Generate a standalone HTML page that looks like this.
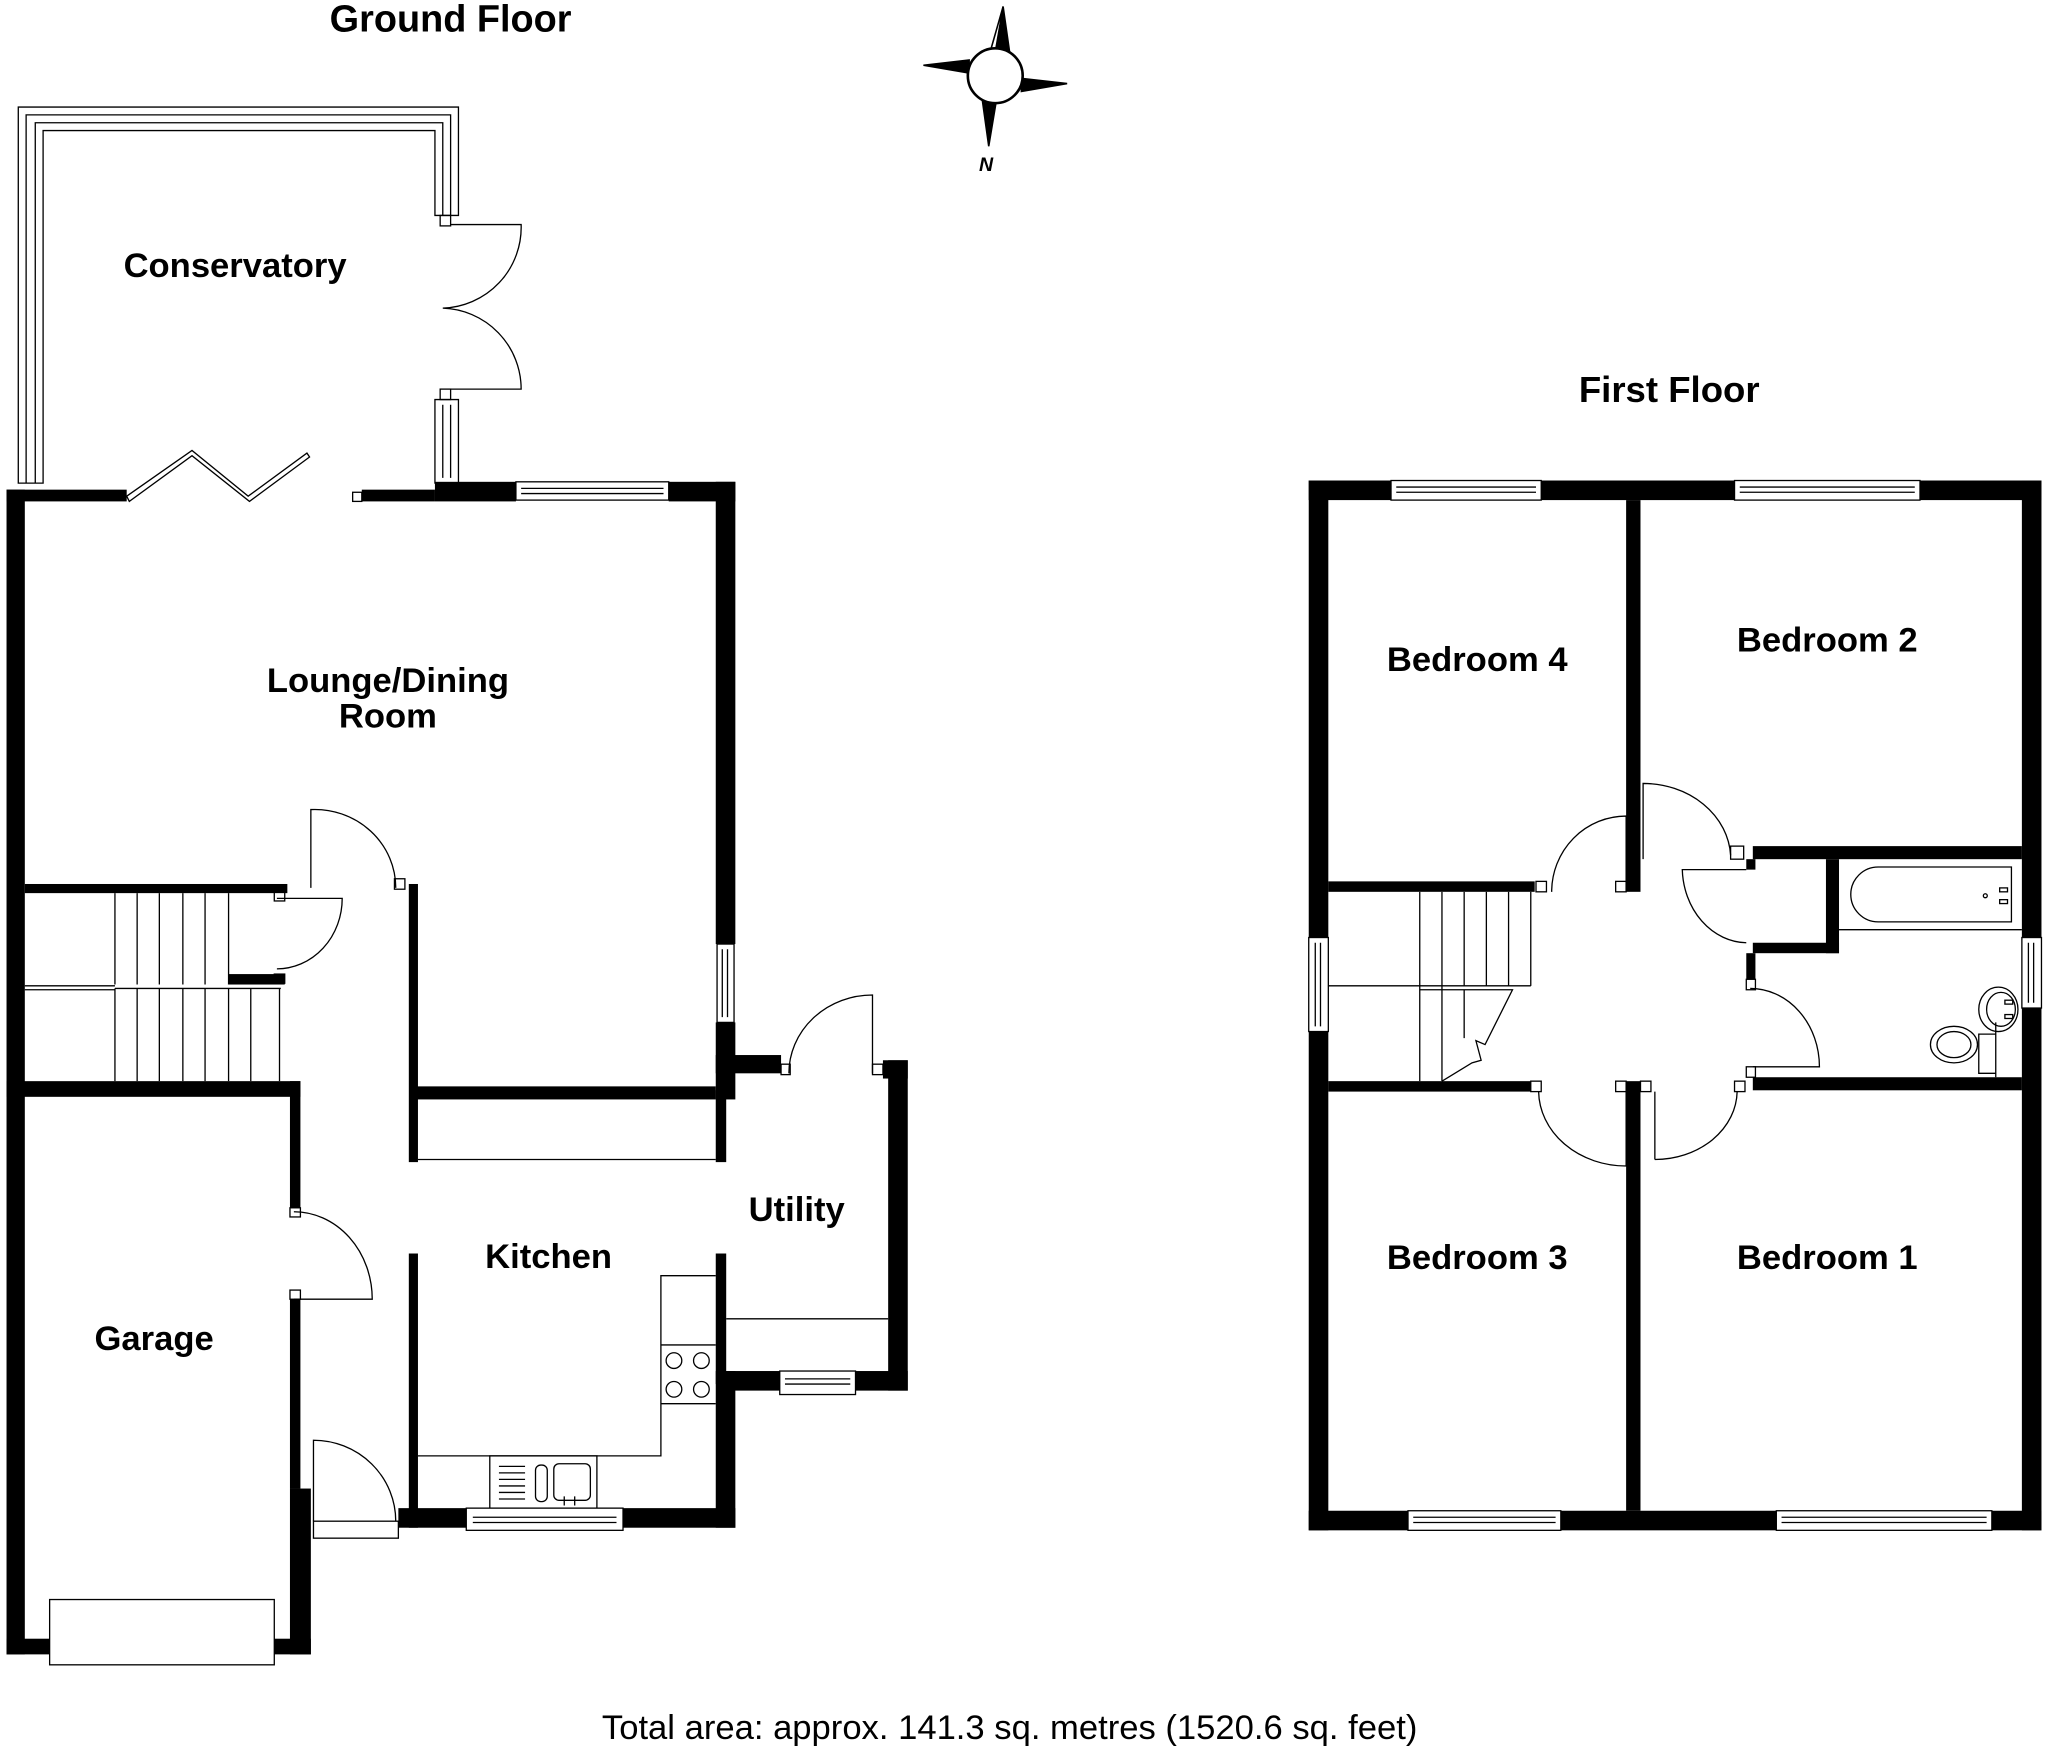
<!DOCTYPE html>
<html><head><meta charset="utf-8"><style>html,body{margin:0;padding:0;background:#fff}svg{display:block}</style></head>
<body>
<svg width="2048" height="1751" viewBox="0 0 1568 1341" preserveAspectRatio="none" xmlns="http://www.w3.org/2000/svg">
<rect width="1568" height="1341" fill="#fff"/>
<g font-family="Liberation Sans, Arial, sans-serif" font-weight="bold" font-size="26.5" text-anchor="middle" fill="#000">
<text x="345" y="24" font-size="29">Ground Floor</text>
<text x="1278" y="308" font-size="28">First Floor</text>
<text x="180" y="212">Conservatory</text>
<text x="297" y="530">Lounge/Dining</text>
<text x="297" y="557">Room</text>
<text x="420" y="971">Kitchen</text>
<text x="610" y="935">Utility</text>
<text x="118" y="1034">Garage</text>
<text x="1131" y="514">Bedroom 4</text>
<text x="1399" y="499">Bedroom 2</text>
<text x="1131" y="972">Bedroom 3</text>
<text x="1399" y="972">Bedroom 1</text>
</g>
<text x="773" y="1332" font-family="Liberation Sans, Arial, sans-serif" font-size="26.5" text-anchor="middle">Total area: approx. 141.3 sq. metres (1520.6 sq. feet)</text>

<!-- compass -->
<g stroke="#000" stroke-width="1.2">
<polygon points="768,5 773,40 762,40" fill="#000"/>
<polygon points="768,5 762,40 758,40" fill="#fff"/>
<polygon points="757,112 752,76 763,76" fill="#000"/>
<polygon points="707,50 742,46 742,56" fill="#000"/>
<polygon points="817,64 782,60 782,70" fill="#000"/>
<circle cx="762" cy="58" r="21" fill="#fff" stroke-width="2"/>
</g>
<text x="755" y="131" font-family="Liberation Sans, Arial, sans-serif" font-weight="bold" font-style="italic" font-size="15" text-anchor="middle">N</text>

<g fill="none" stroke="#000" stroke-width="1">
<!-- conservatory frame -->
<path d="M14,370 V82 H351 V165 H333 V100 H33 V370 Z" fill="#fff"/>
<path d="M20,370 V88 H345 V165"/>
<path d="M27,370 V94 H339 V165"/>
<rect x="337" y="165" width="8" height="8"/>
<rect x="337" y="298" width="8" height="8"/>
<path d="M333,306 H351 V370 H333 Z"/>
<path d="M339,310 V366 M345,310 V366"/>
<!-- double doors -->
<path d="M345,172 H399 A62,62 0 0 1 339,236 A62,62 0 0 1 399,298 H345"/>
<!-- bifold -->
<path d="M97,380 L147,345 L190,380 L235,347 L237,350 L191,384 L147,349 L99,384 Z"/>
<rect x="270" y="377" width="7" height="7"/>
<!-- lounge door -->
<path d="M238,680 V620 A62,60 0 0 1 303,680"/>
<rect x="302" y="673" width="8" height="8"/>
<!-- stair door -->
<path d="M212,742 A50,54 0 0 0 262,688 H212"/>
<rect x="210" y="683" width="8" height="7"/>
<rect x="210" y="746" width="8" height="7"/>
<!-- stairs -->
<path d="M19,755 H88 M88,684 V754 M105,684 V754 M122,684 V754 M140,684 V754 M157,684 V754 M175,684 V754"/>
<path d="M19,758 H88 M88,757 V828 M105,757 V828 M122,757 V828 M140,757 V828 M157,757 V828 M175,757 V828 M192,757 V828 M214,757 V828 M88,757 H215"/>
<!-- garage door -->
<path d="M225,928 A60,67 0 0 1 285,995 H225"/>
<rect x="222" y="925" width="8" height="7"/>
<rect x="222" y="988" width="8" height="7"/>
<rect x="38" y="1225" width="172" height="50" fill="#fff"/>
<!-- front door -->
<path d="M240,1165 V1103 A63,62 0 0 1 303,1165"/>
<rect x="240" y="1165" width="65" height="13"/>
<!-- lounge unit -->
<path d="M320,888 H548"/>
<!-- utility door -->
<path d="M668,822 V762 A64,60 0 0 0 604,822"/>
<rect x="598" y="815" width="7" height="8"/>
<rect x="668" y="815" width="8" height="8"/>
<path d="M556,1010 H680"/>
<!-- kitchen worktops -->
<path d="M320,1115 H506 V977 H548 M506,1030 H548 M506,1075 H548"/>
<circle cx="516" cy="1042" r="6"/><circle cx="537" cy="1042" r="6"/>
<circle cx="516" cy="1064" r="6"/><circle cx="537" cy="1064" r="6"/>
<rect x="375" y="1115" width="82" height="40"/>
<path d="M382,1123 H402 M382,1128 H402 M382,1133 H402 M382,1138 H402 M382,1143 H402 M382,1148 H402"/>
<rect x="410" y="1122" width="9" height="28" rx="4"/>
<rect x="424" y="1121" width="28" height="28" rx="4"/>
<path d="M432,1146 V1153 M440,1146 V1153"/>
<!-- windows ground -->
<rect x="395" y="369" width="117" height="14" fill="#fff"/><path d="M399,374 H508 M399,378 H508"/>
<rect x="549" y="723" width="13" height="60" fill="#fff"/><path d="M553,727 V779 M557,727 V779"/>
<rect x="357" y="1155" width="120" height="17" fill="#fff"/><path d="M362,1162 H472 M362,1166 H472"/>
<rect x="597" y="1050" width="58" height="18" fill="#fff"/><path d="M601,1056 H651 M601,1060 H651"/>
</g>

<!-- ground walls -->
<g fill="#000">
<rect x="5" y="375" width="14" height="892"/>
<rect x="5" y="375" width="92" height="9"/>
<rect x="277" y="375" width="56" height="9"/>
<rect x="333" y="369" width="62" height="15"/>
<rect x="512" y="369" width="51" height="15"/>
<rect x="548" y="369" width="15" height="354"/>
<rect x="548" y="783" width="15" height="59"/>
<rect x="548" y="808" width="50" height="14"/>
<rect x="676" y="812" width="19" height="14"/>
<rect x="680" y="812" width="15" height="253"/>
<rect x="555" y="1050" width="42" height="15"/>
<rect x="655" y="1050" width="40" height="15"/>
<rect x="548" y="835" width="8" height="55"/>
<rect x="548" y="960" width="8" height="100"/>
<rect x="548" y="1050" width="15" height="120"/>
<rect x="318" y="832" width="230" height="10"/>
<rect x="313" y="677" width="7" height="213"/>
<rect x="19" y="677" width="201" height="7"/>
<rect x="175" y="746" width="43" height="8"/>
<rect x="5" y="828" width="225" height="12"/>
<rect x="222" y="828" width="8" height="97"/>
<rect x="222" y="995" width="8" height="145"/>
<rect x="222" y="1140" width="16" height="127"/>
<rect x="5" y="1255" width="33" height="12"/>
<rect x="210" y="1255" width="28" height="12"/>
<rect x="313" y="960" width="7" height="210"/>
<rect x="305" y="1155" width="52" height="15"/>
<rect x="477" y="1155" width="86" height="15"/>
</g>

<!-- first floor -->
<g fill="#000">
<rect x="1002" y="368" width="15" height="350"/>
<rect x="1002" y="790" width="15" height="382"/>
<rect x="1548" y="368" width="15" height="350"/>
<rect x="1548" y="772" width="15" height="400"/>
<rect x="1002" y="368" width="63" height="15"/>
<rect x="1180" y="368" width="148" height="15"/>
<rect x="1470" y="368" width="93" height="15"/>
<rect x="1002" y="1157" width="76" height="15"/>
<rect x="1195" y="1157" width="165" height="15"/>
<rect x="1525" y="1157" width="38" height="15"/>
<rect x="1245" y="383" width="11" height="300"/>
<rect x="1017" y="675" width="158" height="8"/>
<rect x="1342" y="648" width="206" height="10"/>
<rect x="1398" y="658" width="10" height="72"/>
<rect x="1342" y="722" width="66" height="8"/>
<rect x="1337" y="658" width="7" height="8"/>
<rect x="1337" y="730" width="7" height="20"/>
<rect x="1342" y="825" width="206" height="10"/>
<rect x="1017" y="828" width="155" height="8"/>
<rect x="1245" y="828" width="11" height="329"/>
</g>
<g fill="none" stroke="#000" stroke-width="1">
<rect x="1065" y="368" width="115" height="15" fill="#fff"/><path d="M1069,373 H1176 M1069,377 H1176"/>
<rect x="1328" y="368" width="142" height="15" fill="#fff"/><path d="M1332,373 H1466 M1332,377 H1466"/>
<rect x="1078" y="1157" width="117" height="15" fill="#fff"/><path d="M1082,1162 H1191 M1082,1166 H1191"/>
<rect x="1360" y="1157" width="165" height="15" fill="#fff"/><path d="M1364,1162 H1521 M1364,1166 H1521"/>
<rect x="1002" y="718" width="15" height="72" fill="#fff"/><path d="M1007,722 V786 M1011,722 V786"/>
<rect x="1548" y="718" width="15" height="54" fill="#fff"/><path d="M1553,722 V768 M1557,722 V768"/>
<!-- doors -->
<path d="M1245,683 V625 A57,58 0 0 0 1188,683"/>
<rect x="1176" y="675" width="8" height="8"/>
<rect x="1237" y="675" width="8" height="8"/>
<path d="M1258,658 V600 A67,58 0 0 1 1325,655"/>
<rect x="1325" y="648" width="10" height="10"/>
<path d="M1337,666 H1288 A50,58 0 0 0 1337,722"/>
<path d="M1340,757 A53,60 0 0 1 1393,817 H1342"/>
<rect x="1337" y="750" width="7" height="8"/>
<rect x="1337" y="817" width="7" height="8"/>
<path d="M1178,836 A67,58 0 0 0 1245,893 V836"/>
<rect x="1172" y="828" width="8" height="8"/>
<rect x="1237" y="828" width="8" height="8"/>
<rect x="1256" y="828" width="8" height="8"/>
<path d="M1267,888 V836 M1267,888 A63,53 0 0 0 1330,836"/>
<rect x="1328" y="828" width="8" height="8"/>
<!-- stairs FF -->
<path d="M1017,755 H1087 M1087,683 V828 M1104,683 V828 M1121,683 V755 M1138,683 V755 M1155,683 V755 M1172,683 V755 M1087,755 H1172 M1087,758 H1158 L1137,800 L1130,797 L1134,812 L1127,814 L1104,828 M1121,758 V795"/>
<!-- bath -->
<path d="M1408,712 H1548"/>
<path d="M1438,664 H1540 V706 H1438 A21,21 0 0 1 1438,664 Z"/>
<circle cx="1520" cy="686" r="1.5"/>
<rect x="1531" y="680" width="6" height="3"/><rect x="1531" y="689" width="6" height="3"/>
<ellipse cx="1530" cy="773" rx="15" ry="17"/>
<ellipse cx="1532" cy="773" rx="11" ry="13"/>
<rect x="1535" y="766" width="6" height="3"/><rect x="1535" y="777" width="6" height="3"/>
<path d="M1528,783 V825 M1515,792 H1528 V822 H1515 Z"/>
<ellipse cx="1496" cy="800" rx="18" ry="14"/>
<ellipse cx="1496" cy="800" rx="13" ry="10"/>
</g>
</svg>
</body></html>
